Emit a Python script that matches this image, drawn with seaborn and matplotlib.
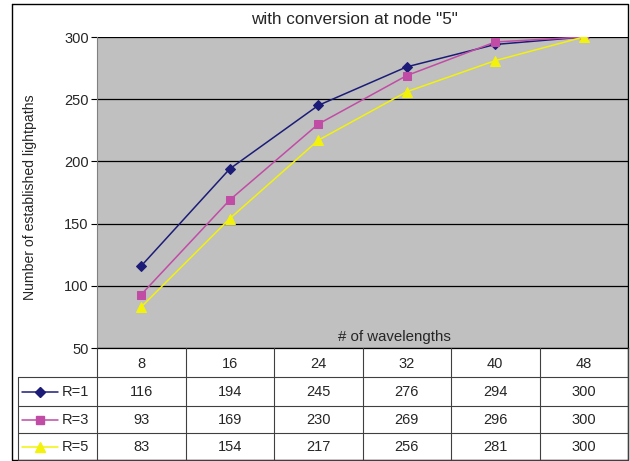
import matplotlib
matplotlib.use("Agg")
import matplotlib.pyplot as plt
import seaborn as sns
import pandas as pd

# ---- data ----
wavelengths = ["8", "16", "24", "32", "40", "48"]
r1 = [116, 194, 245, 276, 294, 300]
r3 = [93, 169, 230, 269, 296, 300]
r5 = [83, 154, 217, 256, 281, 300]
series_names = ["R=1", "R=3", "R=5"]
y_ticks = [50, 100, 150, 200, 250, 300]
title = 'with conversion at node "5"'
xlabel = "# of wavelengths"
ylabel = "Number of established lightpaths"

colors = {"R=1": "#1c1c78", "R=3": "#c04ca6", "R=5": "#f2f20c"}
markers = {"R=1": "D", "R=3": "s", "R=5": "^"}
msizes = {"R=1": 5.5, "R=3": 6, "R=5": 7.5}

rows = []
for name, vals in zip(series_names, [r1, r3, r5]):
    for w, v in zip(wavelengths, vals):
        rows.append({"wl": w, "val": v, "series": name})
df = pd.DataFrame(rows)

sns.set_theme(style="white")
plt.rcParams["font.family"] = ["Liberation Sans", "DejaVu Sans"]

W, H = 630, 461
fig = plt.figure(figsize=(W / 100, H / 100), dpi=100)

def fx(px):
    return px / W

def fy(py):
    return 1 - py / H

L, R, T, B = 97, 628, 37, 348
ax = fig.add_axes([fx(L), fy(B), fx(R) - fx(L), fy(T) - fy(B)])
ax.set_facecolor("#c0c0c0")

for name in series_names:
    sub = df[df["series"] == name]
    sns.lineplot(data=sub, x="wl", y="val", ax=ax, color=colors[name],
                 marker=markers[name], markersize=msizes[name],
                 markeredgecolor=colors[name], linewidth=1.1, legend=False,
                 sort=False, zorder=3)

ax.set_xlim(-0.5, len(wavelengths) - 0.5)
ax.set_ylim(50, 300)
ax.set_yticks(y_ticks)
ax.set_yticklabels([str(t) for t in y_ticks], fontsize=10.5)
ax.yaxis.grid(True, color="black", linewidth=0.9)
ax.xaxis.grid(False)
ax.set_axisbelow(True)
ax.tick_params(axis="y", left=True, length=4, width=0.8, color="black", pad=2)
ax.tick_params(axis="x", bottom=False, labelbottom=False)
ax.set_xlabel("")
ax.set_ylabel("")
for s in ["top", "right"]:
    ax.spines[s].set_visible(False)
ax.spines["left"].set_color("#808080")
ax.spines["left"].set_linewidth(0.8)
ax.spines["bottom"].set_color("black")
ax.spines["bottom"].set_linewidth(0.9)
ax.text((394 - L) / (R - L), (B - 337) / (B - T), xlabel,
        transform=ax.transAxes, ha="center", va="center", fontsize=10.8)

fig.text(fx(354), fy(19), title, ha="center", va="center", fontsize=12.3)
fig.text(fx(30), fy(197), ylabel, ha="center", va="center",
         rotation=90, fontsize=10.1)

# ---- overlay for table and border ----
ov = fig.add_axes([0, 0, 1, 1], zorder=5)
ov.set_xlim(0, W)
ov.set_ylim(H, 0)
ov.axis("off")
ov.patch.set_alpha(0)

# outer border
ov.plot([12, 628, 628, 12, 12], [4, 4, 460, 460, 4], color="black", lw=1.0)

ncol = len(wavelengths)
cw = (R - L) / ncol
row_y = [348, 377, 406, 433, 460]
lc = "#404040"
for yv in row_y[1:]:
    ov.plot([18, R], [yv, yv], color=lc, lw=0.8)
for k in range(ncol + 1):
    xv = L + k * cw
    ov.plot([xv, xv], [348, 460], color=lc, lw=0.8)
ov.plot([18, 18], [377, 460], color=lc, lw=0.8)

for k, w in enumerate(wavelengths):
    ov.text(L + (k + 0.5) * cw, (row_y[0] + row_y[1]) / 2 + 1, w,
            ha="center", va="center", fontsize=10.5)

for i, (name, vals) in enumerate(zip(series_names, [r1, r3, r5])):
    yc = (row_y[i + 1] + row_y[i + 2]) / 2
    ov.plot([22, 58], [yc, yc], color=colors[name], lw=1.1)
    ov.plot([40], [yc], marker=markers[name], color=colors[name],
            markersize=msizes[name], markeredgecolor=colors[name])
    ov.text(62, yc + 0.5, name, ha="left", va="center", fontsize=10.5)
    for k, v in enumerate(vals):
        ov.text(L + (k + 0.5) * cw, yc + 0.5, str(v), ha="center",
                va="center", fontsize=10.5)

fig.savefig("out.png", dpi=100)
